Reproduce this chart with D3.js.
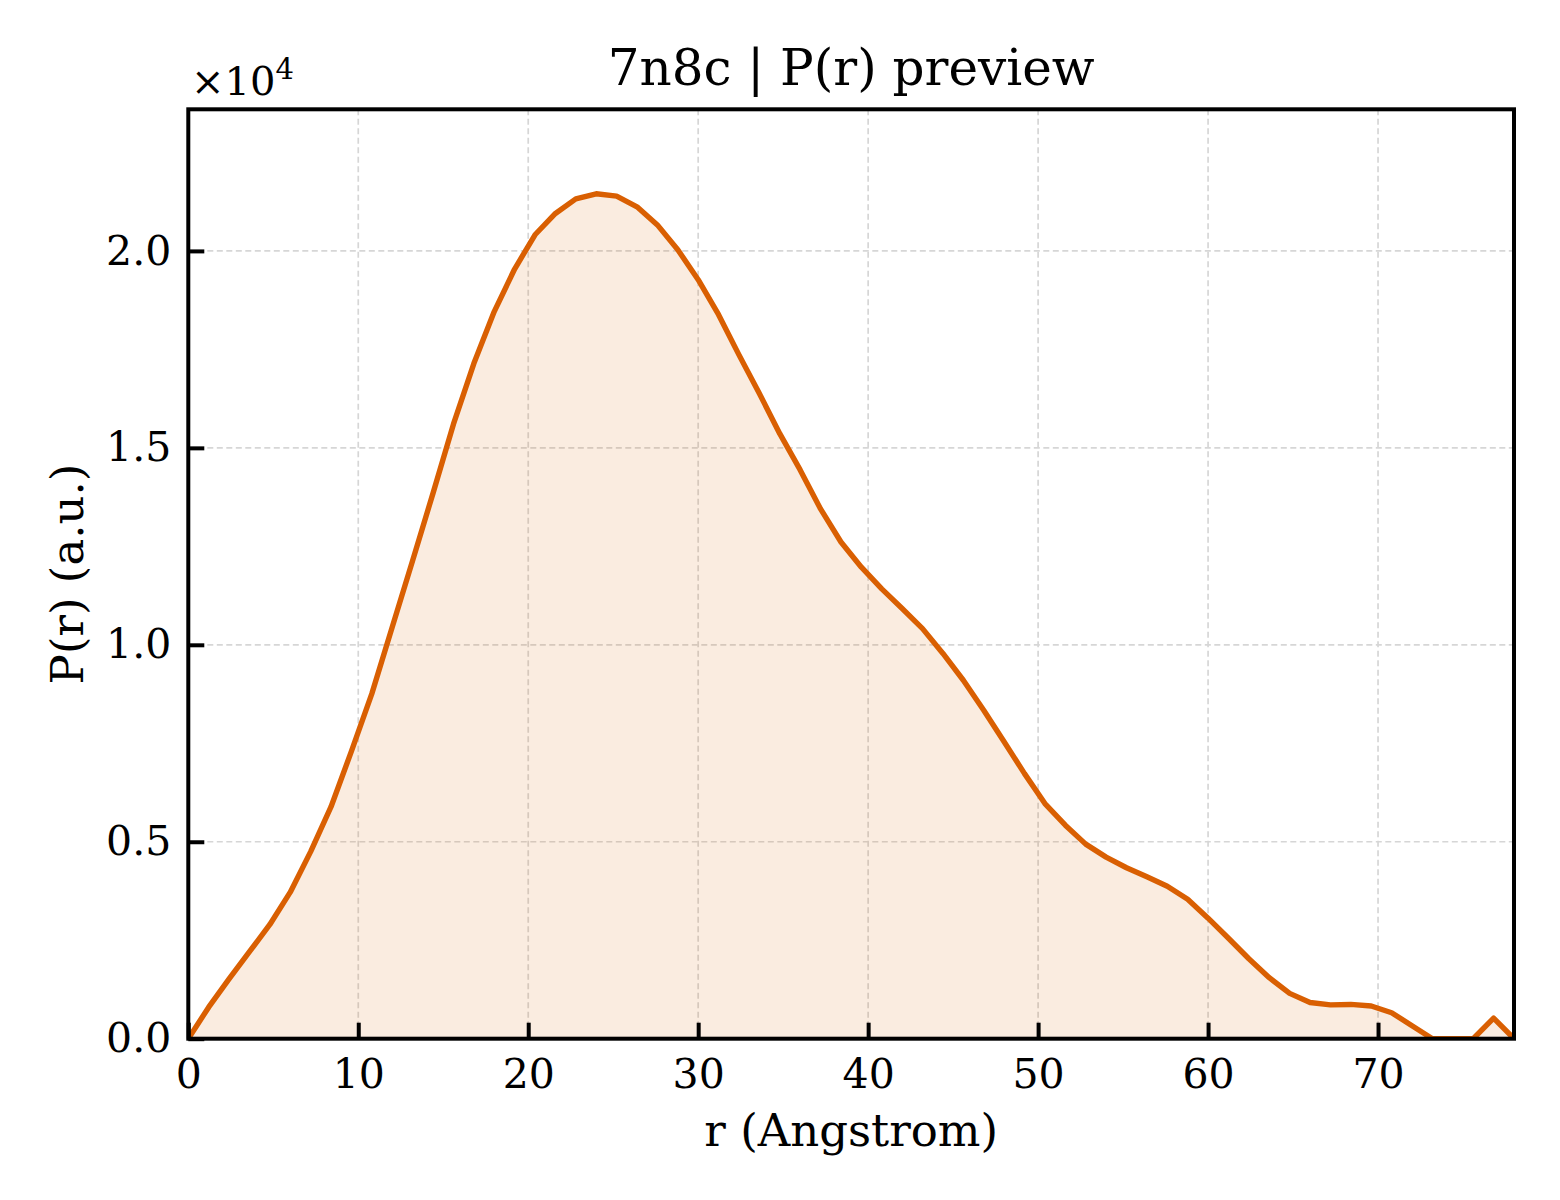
<!DOCTYPE html>
<html>
<head>
<meta charset="utf-8">
<script src="https://cdn.jsdelivr.net/npm/d3@7"></script>
<style>
  body { margin: 0; background: #fff; }
  text { font-family: "DejaVu Serif", serif; fill: #000; }
</style>
</head>
<body>
<svg id="chart" width="1560" height="1200"></svg>
<script>
// r in Angstrom
const rValues = [0, 1.2, 2.4, 3.6, 4.8, 6.0, 7.2, 8.4, 9.6, 10.8,
  12.0, 13.2, 14.4, 15.6, 16.8, 18.0, 19.2, 20.4, 21.6, 22.8,
  24.0, 25.2, 26.4, 27.6, 28.8, 30.0, 31.2, 32.4, 33.6, 34.8,
  36.0, 37.2, 38.4, 39.6, 40.8, 42.0, 43.2, 44.4, 45.6, 46.8,
  48.0, 49.2, 50.4, 51.6, 52.8, 54.0, 55.2, 56.4, 57.6, 58.8,
  60.0, 61.2, 62.4, 63.6, 64.8, 66.0, 67.2, 68.4, 69.6, 70.8,
  72.0, 73.2, 74.4, 75.6, 76.8, 78.0]

// P(r) in units of 1e4
const prValues = [0, 0.08, 0.152, 0.221, 0.29, 0.372, 0.475, 0.589, 0.73, 0.876,
  1.045, 1.214, 1.385, 1.56, 1.714, 1.846, 1.954, 2.041, 2.095, 2.132,
  2.145, 2.139, 2.112, 2.066, 2.003, 1.927, 1.838, 1.736, 1.638, 1.536,
  1.444, 1.345, 1.261, 1.197, 1.142, 1.092, 1.041, 0.978, 0.910, 0.834,
  0.754, 0.673, 0.597, 0.542, 0.494, 0.461, 0.434, 0.411, 0.387, 0.354,
  0.306, 0.255, 0.203, 0.155, 0.115, 0.092, 0.086, 0.087, 0.083, 0.066,
  0.033, 0, 0, 0, 0.052, 0]

const xTicks = [0, 10, 20, 30, 40, 50, 60, 70]
const yTicks = [0, 0.5, 1.0, 1.5, 2.0]

const data = rValues.map((r, i) => ({r: r, p: prValues[i]}))

const box = {left: 188.3, right: 1514, top: 109.3, bottom: 1038.7}

const x = d3.scaleLinear().domain([0, 78]).range([box.left, box.right])
const y = d3.scaleLinear().domain([0, 1.1 * d3.max(prValues)]).range([box.bottom, box.top])

const svg = d3.select('#chart')

svg.append('defs').append('clipPath').attr('id', 'plotclip')
  .append('rect')
  .attr('x', box.left).attr('y', box.top)
  .attr('width', box.right - box.left).attr('height', box.bottom - box.top)

// grid
const grid = svg.append('g')
grid.selectAll('.gx')
  .data(xTicks.filter(d => d > 0))
  .join('line')
  .attr('x1', d => x(d)).attr('x2', d => x(d))
  .attr('y1', box.top).attr('y2', box.bottom)
  .attr('stroke', '#d6d6d6').attr('stroke-width', 1.7)
  .attr('stroke-dasharray', '6,3.5')
grid.selectAll('.gy')
  .data(yTicks.filter(d => d > 0))
  .join('line')
  .attr('x1', box.left).attr('x2', box.right)
  .attr('y1', d => y(d)).attr('y2', d => y(d))
  .attr('stroke', '#d6d6d6').attr('stroke-width', 1.7)
  .attr('stroke-dasharray', '6,3.5')

const plot = svg.append('g').attr('clip-path', 'url(#plotclip)')

const area = d3.area()
  .x(d => x(d.r))
  .y0(y(0))
  .y1(d => y(d.p))

plot.append('path')
  .datum(data)
  .attr('d', area)
  .attr('fill', '#d95f02')
  .attr('fill-opacity', 0.12)

const line = d3.line()
  .x(d => x(d.r))
  .y(d => y(d.p))

plot.append('path')
  .datum(data)
  .attr('d', line)
  .attr('fill', 'none')
  .attr('stroke', '#d95f02')
  .attr('stroke-width', 5.4)
  .attr('stroke-linejoin', 'round')

// axes (ticks pointing inward)
const xAxis = d3.axisBottom(x).tickValues(xTicks).tickSize(-16).tickPadding(20).tickFormat(d3.format('d'))
const yAxis = d3.axisLeft(y).tickValues(yTicks).tickSize(-16).tickPadding(17).tickFormat(d3.format('.1f'))

const gx = svg.append('g').attr('transform', `translate(0,${box.bottom})`).call(xAxis)
const gy = svg.append('g').attr('transform', `translate(${box.left},0)`).call(yAxis)

for (const g of [gx, gy]) {
  g.select('.domain').remove()
  g.selectAll('.tick line').attr('stroke', '#000').attr('stroke-width', 4)
  g.selectAll('.tick text')
    .attr('font-family', '"DejaVu Serif", serif')
    .attr('font-size', 41)
    .attr('fill', '#000')
}
gx.selectAll('.tick text').attr('dy', '0.71em')

// frame
svg.append('rect')
  .attr('x', box.left).attr('y', box.top)
  .attr('width', box.right - box.left).attr('height', box.bottom - box.top)
  .attr('fill', 'none')
  .attr('stroke', '#000')
  .attr('stroke-width', 4)

// offset label
const off = svg.append('text')
  .attr('x', 191).attr('y', 95)
  .attr('font-size', 40)
off.append('tspan').text('×10')
off.append('tspan').attr('font-size', 29).attr('dy', -16).text('4')

svg.append('text')
  .attr('x', (box.left + box.right) / 2).attr('y', 85)
  .attr('text-anchor', 'middle')
  .attr('font-size', 50)
  .text('7n8c | P(r) preview')

svg.append('text')
  .attr('x', (box.left + box.right) / 2).attr('y', 1146)
  .attr('text-anchor', 'middle')
  .attr('font-size', 45)
  .text('r (Angstrom)')

svg.append('text')
  .attr('transform', `translate(83,${(box.top + box.bottom) / 2}) rotate(-90)`)
  .attr('text-anchor', 'middle')
  .attr('font-size', 45)
  .text('P(r) (a.u.)')
</script>
</body>
</html>
